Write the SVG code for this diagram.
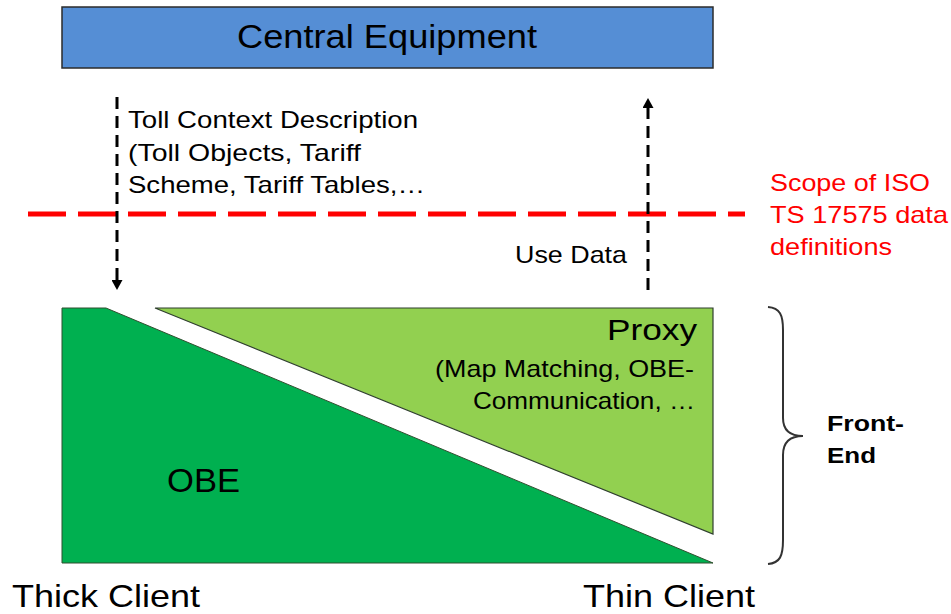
<svg xmlns="http://www.w3.org/2000/svg" width="951" height="614" viewBox="0 0 951 614">
  <style>
    text { font-family: "Liberation Sans", Arial, sans-serif; fill: #000; }
    .big { font-size: 33px; }
    .axis { font-size: 32px; }
    .mid { font-size: 24px; }
    .red { fill: #FF0000; font-size: 24px; }
    .bold { font-weight: bold; font-size: 22px; }
    .flow { stroke: #000; stroke-width: 3; stroke-dasharray: 12 7; fill: none; }
  </style>
  <defs>
    <marker id="arrowhead" markerUnits="userSpaceOnUse" markerWidth="11" markerHeight="11" refX="7" refY="5.5" orient="auto">
      <path d="M0,0 L10,5.5 L0,11 Z" fill="#000"/>
    </marker>
  </defs>
  <rect width="951" height="614" fill="#fff"/>

  <!-- central system on top -->
  <g id="central-equipment">
    <rect x="62" y="7" width="651" height="61" fill="#558ED5" stroke="#2b2b2b" stroke-width="1.5"/>
    <text class="big" x="237" y="48" textLength="300" lengthAdjust="spacingAndGlyphs">Central Equipment</text>
  </g>

  <!-- scope boundary -->
  <g id="scope-boundary">
    <line x1="28" y1="214" x2="745" y2="214" stroke="#FF0000" stroke-width="5" stroke-dasharray="38 12"/>
    <text class="red" x="770" y="191" textLength="160" lengthAdjust="spacingAndGlyphs">Scope of ISO</text>
    <text class="red" x="770" y="223" textLength="178" lengthAdjust="spacingAndGlyphs">TS 17575 data</text>
    <text class="red" x="770" y="255" textLength="122" lengthAdjust="spacingAndGlyphs">definitions</text>
  </g>

  <!-- data flows -->
  <g id="connectors">
    <line class="flow" x1="117" y1="97" x2="117" y2="287" marker-end="url(#arrowhead)"/>
    <line class="flow" x1="648" y1="290" x2="648" y2="101" marker-end="url(#arrowhead)"/>
  </g>
  <g id="toll-context-label">
    <text class="mid" x="128" y="128" textLength="290" lengthAdjust="spacingAndGlyphs">Toll Context Description</text>
    <text class="mid" x="128" y="161" textLength="233" lengthAdjust="spacingAndGlyphs">(Toll Objects, Tariff</text>
    <text class="mid" x="128" y="193" textLength="297" lengthAdjust="spacingAndGlyphs">Scheme, Tariff Tables,…</text>
  </g>
  <g id="use-data-label">
    <text class="mid" x="515" y="263" textLength="112" lengthAdjust="spacingAndGlyphs">Use Data</text>
  </g>

  <!-- front-end split -->
  <g id="obe">
    <polygon points="62,308 106,308 713,563 62,563" fill="#00B050" stroke="#2f4f2f" stroke-width="1"/>
    <text class="big" x="167" y="492" font-size="32" textLength="73" lengthAdjust="spacingAndGlyphs">OBE</text>
  </g>
  <g id="proxy">
    <polygon points="155,308 713,308 713,534" fill="#92D050" stroke="#2f3f2f" stroke-width="1.2"/>
    <text x="607" y="340" font-size="30" textLength="90" lengthAdjust="spacingAndGlyphs">Proxy</text>
    <text class="mid" x="435" y="377" textLength="259" lengthAdjust="spacingAndGlyphs">(Map Matching, OBE-</text>
    <text class="mid" x="473" y="409" textLength="222" lengthAdjust="spacingAndGlyphs">Communication, …</text>
  </g>

  <g id="front-end">
    <path d="M768,307 C780,308 783,315 783,330 L783,418 C783,430 790,436 803,436 C790,436 783,442 783,455 L783,540 C783,556 780,563 768,564" fill="none" stroke="#333" stroke-width="2"/>
    <text class="bold" x="827" y="431" textLength="77" lengthAdjust="spacingAndGlyphs">Front-</text>
    <text class="bold" x="827" y="463" textLength="49" lengthAdjust="spacingAndGlyphs">End</text>
  </g>

  <g id="axis-labels">
    <text class="axis" x="12" y="607" textLength="188" lengthAdjust="spacingAndGlyphs">Thick Client</text>
    <text class="axis" x="583" y="607" textLength="172" lengthAdjust="spacingAndGlyphs">Thin Client</text>
  </g>
</svg>
